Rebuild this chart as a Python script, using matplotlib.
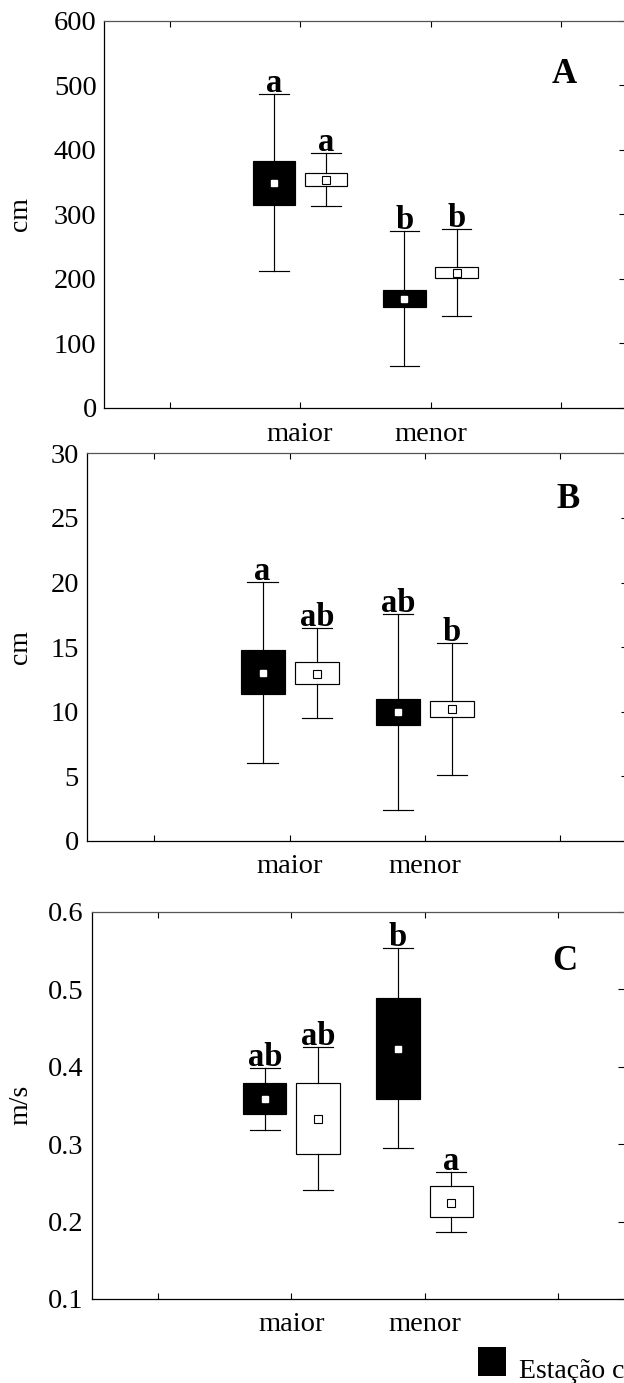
import matplotlib
matplotlib.use("Agg")
import matplotlib.pyplot as plt
import matplotlib.transforms as mtransforms
from matplotlib.patches import Rectangle
from matplotlib.ticker import FormatStrFormatter

plt.rcParams['font.family'] = ['Liberation Serif', 'DejaVu Serif']

# ---------------- data ----------------
categories = ['maior', 'menor']
season_labels = ['Estação chuvosa', 'Estação seca']
# order of boxes: maior-chuvosa, maior-seca, menor-chuvosa, menor-seca

# Panel A (cm)
A_mean = [348.6, 353.2, 168.7, 209.5]
A_box_lo = [315.0, 344.0, 155.5, 200.5]
A_box_hi = [382.3, 364.0, 182.9, 218.2]
A_whis_lo = [211.6, 312.8, 65.0, 141.9]
A_whis_hi = [486.0, 395.4, 273.9, 277.4]
A_letters = ['a', 'a', 'b', 'b']
A_yticks = [0, 100, 200, 300, 400, 500, 600]

# Panel B (cm)
B_mean = [13.03, 12.95, 9.96, 10.19]
B_box_lo = [11.35, 12.17, 8.98, 9.57]
B_box_hi = [14.75, 13.88, 10.96, 10.86]
B_whis_lo = [6.06, 9.52, 2.42, 5.08]
B_whis_hi = [20.07, 16.50, 17.54, 15.35]
B_letters = ['a', 'ab', 'ab', 'b']
B_yticks = [0, 5, 10, 15, 20, 25, 30]

# Panel C (m/s)
C_mean = [0.3577, 0.3328, 0.4227, 0.2244]
C_box_lo = [0.3384, 0.2867, 0.3586, 0.2054]
C_box_hi = [0.3784, 0.3793, 0.4886, 0.2454]
C_whis_lo = [0.3186, 0.2407, 0.2945, 0.1861]
C_whis_hi = [0.3978, 0.4257, 0.5527, 0.2644]
C_letters = ['ab', 'ab', 'b', 'a']
C_yticks = [0.1, 0.2, 0.3, 0.4, 0.5, 0.6]

# ---------------- figure ----------------
W, H = 624, 1383
fig = plt.figure(figsize=(W / 100, H / 100), dpi=100)


def add_axes_px(left, top, right, bottom):
    return fig.add_axes([left / W, 1 - bottom / H, (right - left) / W, (bottom - top) / H])


panels = [
    dict(rect=(104.3, 20.7, 626.3, 407.7), mean=A_mean, lo=A_box_lo, hi=A_box_hi,
         wlo=A_whis_lo, whi=A_whis_hi, letters=A_letters, yticks=A_yticks,
         ylabel='cm', tag='A', tagpos=(0.881, 0.839), fmt='%d', xpad=10.5),
    dict(rect=(86.7, 453.3, 628.0, 841.0), mean=B_mean, lo=B_box_lo, hi=B_box_hi,
         wlo=B_whis_lo, whi=B_whis_hi, letters=B_letters, yticks=B_yticks,
         ylabel='cm', tag='B', tagpos=(0.890, 0.858), fmt='%d', xpad=9.5),
    dict(rect=(91.5, 911.7, 624.8, 1299.0), mean=C_mean, lo=C_box_lo, hi=C_box_hi,
         wlo=C_whis_lo, whi=C_whis_hi, letters=C_letters, yticks=C_yticks,
         ylabel='m/s', tag='C', tagpos=(0.888, 0.849), fmt='%.1f', xpad=9.5),
]

offsets = [-0.2, 0.2]
positions = [i + 1 + off for i in range(len(categories)) for off in offsets]
face_colors = ['black', 'white', 'black', 'white']

for p in panels:
    ax = add_axes_px(*p['rect'])
    stats = []
    for k in range(4):
        stats.append(dict(med=p['mean'][k], mean=p['mean'][k], q1=p['lo'][k], q3=p['hi'][k],
                          whislo=p['wlo'][k], whishi=p['whi'][k], fliers=[]))
    art = ax.bxp(stats, positions=positions, widths=0.325, capwidths=0.225,
                 patch_artist=True, showmeans=True, showfliers=False, manage_ticks=False,
                 boxprops=dict(edgecolor='black', linewidth=0.85),
                 whiskerprops=dict(color='black', linewidth=0.85),
                 capprops=dict(color='black', linewidth=0.85),
                 medianprops=dict(linewidth=0),
                 meanprops=dict(marker='s', markersize=4, markerfacecolor='white',
                                markeredgecolor='white'))
    for k, box in enumerate(art['boxes']):
        box.set_facecolor(face_colors[k])
        m = art['means'][k]
        if face_colors[k] == 'white':
            m.set_markeredgecolor('black')
            m.set_markeredgewidth(0.8)
            m.set_markersize(5.2)
        m.set_zorder(5)
    for med in art['medians']:
        med.set_visible(False)

    for k, letter in enumerate(p['letters']):
        ax.annotate(letter, xy=(positions[k], p['whi'][k]), xytext=(0, 1.5),
                    textcoords='offset points', ha='center', va='baseline',
                    fontsize=23.5, fontweight='bold')

    ax.set_xlim(-0.5, 3.5)
    ax.set_ylim(p['yticks'][0], p['yticks'][-1])
    ax.set_xticks([0, 1, 2, 3])
    ax.set_xticklabels([''] + categories + [''])
    ax.set_yticks(p['yticks'])
    ax.yaxis.set_major_formatter(FormatStrFormatter(p['fmt']))
    ax.tick_params(axis='x', direction='in', top=True, bottom=True, length=4, width=0.8,
                   labelsize=20.5, pad=p['xpad'])
    ax.tick_params(axis='y', direction='in', left=False, right=True, length=5, width=0.8,
                   labelleft=True, labelsize=20.5, pad=5.5)
    for side, sp in ax.spines.items():
        sp.set_linewidth(0.9)
        sp.set_color('black' if side in ('left', 'bottom') else '#555555')

    ax.set_ylabel(p['ylabel'], fontsize=20)
    tr = mtransforms.blended_transform_factory(fig.transFigure, ax.transAxes)
    ax.yaxis.set_label_coords(33 / W, 0.5, transform=tr)

    ax.text(p['tagpos'][0], p['tagpos'][1], p['tag'], transform=ax.transAxes,
            fontsize=25, fontweight='bold', ha='center', va='baseline')

# legend (cut at the right edge of the picture, as in the reference)
fig.add_artist(Rectangle((478 / W, 1 - 1376 / H), 28 / W, 29 / H,
                         transform=fig.transFigure, facecolor='black', edgecolor='none'))
fig.text(519 / W, 1 - 1378 / H, season_labels[0], fontsize=20, ha='left', va='baseline')

fig.savefig('out.png', dpi=100)
